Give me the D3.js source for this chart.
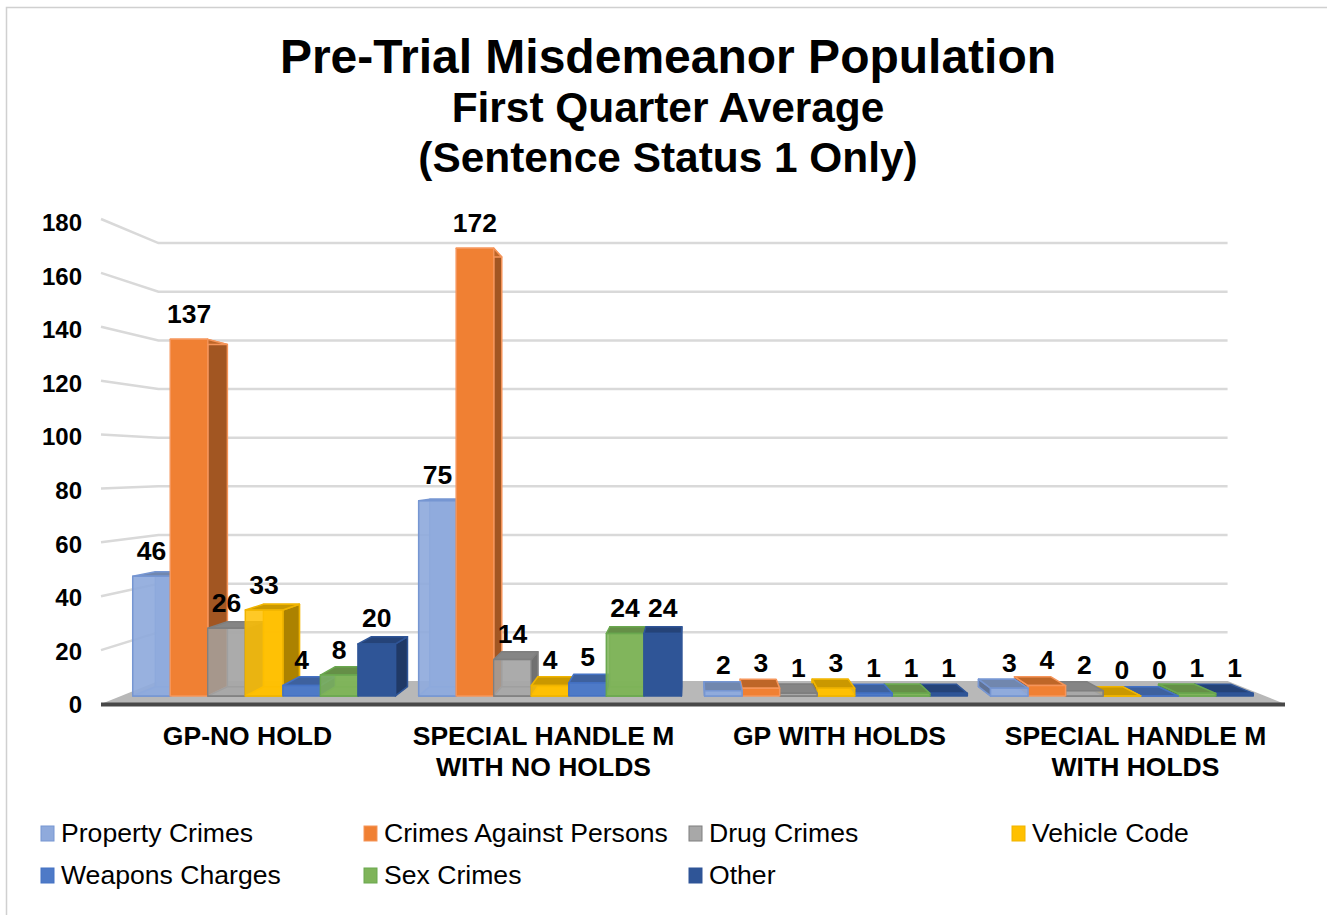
<!DOCTYPE html>
<html lang="en">
<head>
<meta charset="utf-8">
<title>Pre-Trial Misdemeanor Population</title>
<script src="https://cdn.jsdelivr.net/npm/d3@7"></script>
<style>
  html, body { margin: 0; padding: 0; background: #fff; }
  svg { display: block; font-family: "Liberation Sans", Arial, sans-serif; }
</style>
</head>
<body>
<svg></svg>
<script>
var categories = ["GP-NO HOLD", "SPECIAL HANDLE M WITH NO HOLDS", "GP WITH HOLDS", "SPECIAL HANDLE M WITH HOLDS"];
var categoryLines = [["GP-NO HOLD"], ["SPECIAL HANDLE M", "WITH NO HOLDS"], ["GP WITH HOLDS"], ["SPECIAL HANDLE M", "WITH HOLDS"]];
var seriesNames = ["Property Crimes", "Crimes Against Persons", "Drug Crimes", "Vehicle Code", "Weapons Charges", "Sex Crimes", "Other"];
var seriesColors = ["#8faadc", "#f08033", "#a8a8a8", "#ffc000", "#4e7ac7", "#7fb45a", "#2f5597"];
var seriesEdges = ["#7696d2", "#f5955a", "#7f7f7f", "#f0b400", "#4472c4", "#6aa84f", "#2f5597"];
var seriesOpacity = [0.92, 1, 0.8, 0.85, 1, 0.88, 1];
var propertyCrimes = [46, 75, 2, 3];
var crimesAgainstPersons = [137, 172, 3, 4];
var drugCrimes = [26, 14, 1, 2];
var vehicleCode = [33, 4, 3, 0];
var weaponsCharges = [4, 5, 1, 0];
var sexCrimes = [8, 24, 1, 1];
var other = [20, 24, 1, 1];
var seriesValues = [propertyCrimes, crimesAgainstPersons, drugCrimes, vehicleCode, weaponsCharges, sexCrimes, other];
var yTicks = [0, 20, 40, 60, 80, 100, 120, 140, 160, 180];

var width = 1327;
var height = 915;

var svg = d3.select("svg").attr("width", width).attr("height", height);

// Frame round the chart
svg.append("rect").attr("x", 6.5).attr("y", 7.5).attr("width", 1330).attr("height", 920)
	.attr("fill", "#fff").attr("stroke", "#d0d0d0").attr("stroke-width", 1.5);

// Title
var titleLines = [
	{ text: "Pre-Trial Misdemeanor Population", y: 73, size: 48 },
	{ text: "First Quarter Average", y: 122, size: 42.4 },
	{ text: "(Sentence Status 1 Only)", y: 172, size: 42.4 }
];
svg.selectAll("text.title").data(titleLines).enter().append("text")
	.attr("class", "title")
	.attr("x", 668).attr("y", function(d) { return d.y; })
	.attr("text-anchor", "middle").attr("font-weight", "bold")
	.attr("font-size", function(d) { return d.size; })
	.attr("fill", "#000")
	.text(function(d) { return d.text; });

// Scales are in the plane of the front edge of the floor, then pushed back towards the vanishing point
var vanish = { x: 693, y: 467 };
var depthWall = 0.903, depthBarFront = 0.966, depthBarBack = 0.927;

var y = d3.scaleLinear().domain([0, 180]).range([704, 219]);
var yLabel = d3.scaleLinear().domain([0, 180]).range([705, 223]);
var x0 = d3.scaleBand().domain(categories).range([101, 1285]);
var x1 = d3.scaleBand().domain(seriesNames).range([12, 284]);

function project(px, py, s) {
	return [vanish.x + (px - vanish.x) * s, vanish.y + (py - vanish.y) * s];
}
function poly(points) {
	return points.map(function(p) { return p.join(","); }).join(" ");
}

var left = 101, right = 1285;

// Floor
svg.append("polygon")
	.attr("points", poly([project(left, y(0), 1), project(left, y(0), depthWall), project(right, y(0), depthWall), project(right, y(0), 1)]))
	.attr("fill", "#b8b8b8");

// Gridlines on back wall and side wall
var gridG = svg.append("g").attr("fill", "none").attr("stroke", "#d9d9d9").attr("stroke-width", 2.5);
gridG.selectAll("polyline").data(yTicks.filter(function(d) { return d > 0; })).enter().append("polyline")
	.attr("points", function(d) {
		return poly([project(left, y(d), 1), project(left, y(d), depthWall), project(right, y(d), depthWall)]);
	});

// Front axis line
svg.append("line").attr("x1", left).attr("x2", right).attr("y1", 704.5).attr("y2", 704.5)
	.attr("stroke", "#484848").attr("stroke-width", 4);

// Y labels
svg.append("g").attr("transform", "translate(82,0)")
	.call(d3.axisLeft(yLabel).tickValues(yTicks).tickSize(0).tickPadding(0))
	.call(function(g) { g.select(".domain").remove(); })
	.selectAll("text")
	.attr("font-family", "Liberation Sans, Arial, sans-serif")
	.attr("font-size", 24).attr("font-weight", "bold").attr("fill", "#000");

// Bars
var bars = [];
categories.forEach(function(cat, c) {
	seriesNames.forEach(function(name, s) {
		var xa = x0(cat) + x1(name);
		var xb = xa + x1.bandwidth();
		bars.push({ c: c, s: s, value: seriesValues[s][c], xa: xa, xb: xb, mid: (xa + xb) / 2 });
	});
});
// Furthest from the vanishing point goes first so nearer bars cover its side
bars.sort(function(a, b) { return Math.abs(b.mid - vanish.x) - Math.abs(a.mid - vanish.x); });

var barG = svg.selectAll("g.bar").data(bars).enter().append("g").attr("class", "bar");

barG.each(function(d) {
	var g = d3.select(this);
	var color = seriesColors[d.s];
	var op = seriesOpacity[d.s];
	var top = y(d.value), base = y(0);
	var f = function(px, py) { return project(px, py, depthBarFront); };
	var b = function(px, py) { return project(px, py, depthBarBack); };
	var edge = seriesEdges[d.s];

	function face(points, fill, opacity) {
		g.append("polygon").attr("points", poly(points))
			.attr("fill", fill).attr("fill-opacity", opacity)
			.attr("stroke", edge).attr("stroke-width", 1.5).attr("stroke-linejoin", "round");
	}

	// Inner faces show through the translucent bars
	if (op < 1) {
		face([b(d.xa, base), b(d.xa, top), b(d.xb, top), b(d.xb, base)], color, op);
		face([f(d.xa, base), b(d.xa, base), b(d.xb, base), f(d.xb, base)], color, op);
	}
	// Side face facing the vanishing point
	var sx = d.mid < vanish.x ? d.xb : d.xa;
	face([f(sx, base), f(sx, top), b(sx, top), b(sx, base)], d3.color(color).darker(1.1).formatHex(), 1);
	// Top face
	face([f(d.xa, top), b(d.xa, top), b(d.xb, top), f(d.xb, top)], d3.color(color).darker(0.65).formatHex(), 1);
	// Front face
	face([f(d.xa, base), f(d.xa, top), f(d.xb, top), f(d.xb, base)], color, op);
});

// Value labels
svg.selectAll("text.value").data(bars).enter().append("text")
	.attr("class", "value")
	.attr("x", function(d) { return project(d.mid, y(d.value), depthBarFront)[0]; })
	.attr("y", function(d) { return project(d.mid, y(d.value), depthBarFront)[1] - 16.5; })
	.attr("text-anchor", "middle").attr("font-size", 26.5).attr("font-weight", "bold").attr("fill", "#000")
	.text(function(d) { return d.value; });

// Category labels
var catText = svg.selectAll("text.cat").data(categories).enter().append("text")
	.attr("class", "cat")
	.attr("text-anchor", "middle").attr("font-size", 26.5).attr("font-weight", "bold").attr("fill", "#000");
catText.each(function(d, i) {
	d3.select(this).selectAll("tspan").data(categoryLines[i]).enter().append("tspan")
		.attr("x", x0(d) + x0.bandwidth() / 2 - 1.5)
		.attr("y", function(line, j) { return 745 + j * 31; })
		.text(function(line) { return line; });
});

// Legend
var legendX = d3.scaleOrdinal().domain(d3.range(4)).range([40, 363, 688, 1011]);
var legendY = d3.scaleOrdinal().domain(d3.range(2)).range([833, 875]);
var legend = svg.selectAll("g.legend").data(seriesNames).enter().append("g")
	.attr("class", "legend")
	.attr("transform", function(d, i) { return "translate(" + legendX(i % 4) + "," + legendY(Math.floor(i / 4)) + ")"; });
legend.append("rect").attr("x", 1).attr("y", -7).attr("width", 13).attr("height", 15)
	.attr("fill", function(d, i) { return seriesColors[i]; })
	.attr("stroke", function(d, i) { return seriesEdges[i]; });
legend.append("text").attr("x", 21).attr("y", 9).attr("font-size", 26.6).attr("fill", "#000")
	.text(function(d) { return d; });
</script>
</body>
</html>
